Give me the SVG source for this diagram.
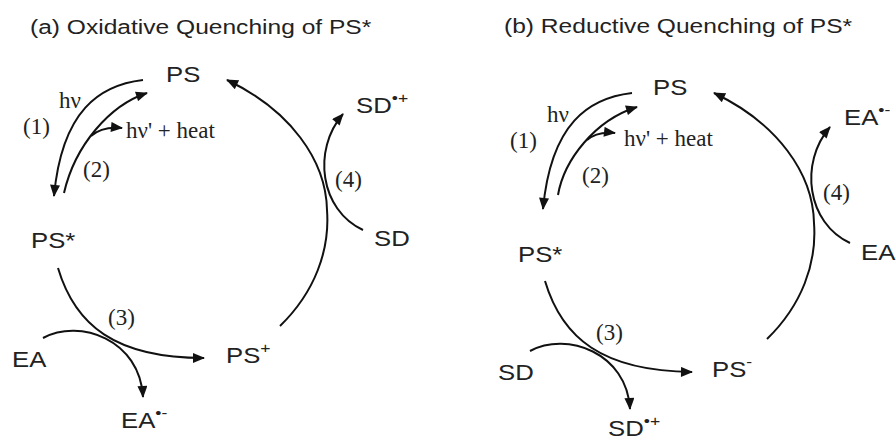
<svg xmlns="http://www.w3.org/2000/svg" width="896" height="441" viewBox="0 0 896 441">
<defs>
<marker id="ah" viewBox="0 0 12 10" refX="11" refY="5" markerWidth="13" markerHeight="10" markerUnits="userSpaceOnUse" orient="auto">
<path d="M0,0 L12,5 L0,10 z" fill="#111"/>
</marker>
<style>
.s{font-family:"Liberation Sans",Arial,sans-serif;font-size:22px;fill:#222}
.t{font-family:"Liberation Sans",Arial,sans-serif;font-size:21px;fill:#222}
.r{font-family:"Liberation Serif","Times New Roman",serif;font-size:23px;fill:#222}
.sup{font-size:15px}
.c path{fill:none;stroke:#111;stroke-width:2}
.c path.a{marker-end:url(#ah)}
</style>
</defs>
<rect width="896" height="441" fill="#fff"/>

<!-- Panel a -->
<g id="title-a"><text class="t" transform="matrix(1.17 0 0 1 30 34)">(a) Oxidative Quenching of PS*</text></g>
<g id="a-PS"><text class="s" transform="matrix(1.17 0 0 1 166 82)">PS</text></g>
<g id="a-PSstar"><text class="s" transform="matrix(1.17 0 0 1 31 248)">PS*</text></g>
<g id="a-PSplus"><text class="s" transform="matrix(1.17 0 0 1 226 363)">PS<tspan class="sup" dy="-10">+</tspan></text></g>
<g id="a-EA"><text class="s" transform="matrix(1.17 0 0 1 12 367)">EA</text></g>
<g id="a-EAminus"><text class="s" transform="matrix(1.17 0 0 1 121 428)">EA<tspan class="sup" dy="-10">•-</tspan></text></g>
<g id="a-SD"><text class="s" transform="matrix(1.17 0 0 1 374 246)">SD</text></g>
<g id="a-SDplus"><text class="s" transform="matrix(1.17 0 0 1 356 113)">SD<tspan class="sup" dy="-10">•+</tspan></text></g>
<g id="a-labels">
<text class="r" x="59" y="108">hν</text>
<text class="r" x="23" y="134">(1)</text>
<text class="r" x="83" y="177">(2)</text>
<text class="r" x="126" y="138">hν' + heat</text>
<text class="r" x="108" y="325">(3)</text>
<text class="r" x="335" y="187">(4)</text>
</g>

<!-- Panel b -->
<g id="title-b"><text class="t" transform="matrix(1.17 0 0 1 504 33)">(b) Reductive Quenching of PS*</text></g>
<g id="b-PS"><text class="s" transform="matrix(1.17 0 0 1 653 95)">PS</text></g>
<g id="b-PSstar"><text class="s" transform="matrix(1.17 0 0 1 518 262)">PS*</text></g>
<g id="b-PSminus"><text class="s" transform="matrix(1.17 0 0 1 712 377)">PS<tspan class="sup" dy="-10">-</tspan></text></g>
<g id="b-SD"><text class="s" transform="matrix(1.17 0 0 1 498 380)">SD</text></g>
<g id="b-SDplus"><text class="s" transform="matrix(1.17 0 0 1 608 436)">SD<tspan class="sup" dy="-10">•+</tspan></text></g>
<g id="b-EA"><text class="s" transform="matrix(1.17 0 0 1 861 260)">EA</text></g>
<g id="b-EAminus"><text class="s" transform="matrix(1.17 0 0 1 844 125)">EA<tspan class="sup" dy="-10">•-</tspan></text></g>
<g id="b-labels">
<text class="r" x="547" y="122">hν</text>
<text class="r" x="510" y="148">(1)</text>
<text class="r" x="582" y="183">(2)</text>
<text class="r" x="624" y="146">hν' + heat</text>
<text class="r" x="596" y="340">(3)</text>
<text class="r" x="823" y="200">(4)</text>
</g>

<g id="connectors" class="c">
<path class="a" d="M143,80 C100,85 62,110 54,196"/>
<path class="a" d="M64,193 C75,145 110,105 147,93"/>
<path class="a" d="M91,136 Q102,126 122,128"/>
<path class="a" d="M58,268 C75,325 115,358 204,358"/>
<path class="a" d="M43,338 C80,318 140,340 143,397"/>
<path class="a" d="M280,326 C315,292 330,250 327,210 C326,160 290,110 227,80"/>
<path class="a" d="M363,230 C320,210 312,150 343,114"/>

<path class="a" d="M632,93 C589,98 551,123 543,209"/>
<path class="a" d="M558,195 C564,160 595,120 637,107"/>
<path class="a" d="M587,140 Q597,131 615,133"/>
<path class="a" d="M545,281 C562,338 602,371 692,372"/>
<path class="a" d="M530,351 C567,331 627,353 630,409"/>
<path class="a" d="M767,339 C802,305 817,263 814,223 C813,173 777,123 714,93"/>
<path class="a" d="M850,243 C807,223 799,163 830,127"/>
</g>
</svg>
